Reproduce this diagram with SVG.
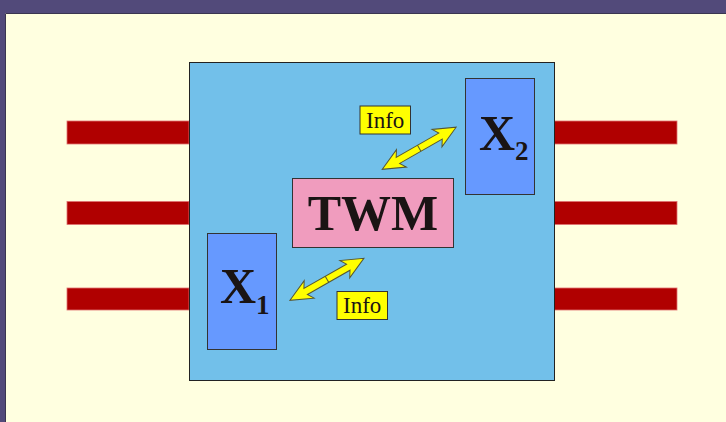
<svg xmlns="http://www.w3.org/2000/svg" width="726" height="422" viewBox="0 0 726 422">
<style>
.bar{fill:#b00000;stroke:#e07070;stroke-width:0.8}
.box{stroke:#333333;stroke-width:1}
.big{font-family:"Liberation Serif",serif;font-weight:bold;fill:#1a1414}
.info{font-family:"Liberation Serif",serif;font-size:23px;fill:#1a1414}
.arrow{fill:#ffff00;stroke:#555533;stroke-width:1}
</style>
<defs>
<polygon id="dbl" points="0,0 22,-10 18,-3.5 67,-3.5 63,-10 85,0 63,10 67,3.5 18,3.5 22,10"/>
</defs>
<rect x="0" y="0" width="726" height="422" fill="#524a7a"/>
<rect x="5" y="13" width="721" height="409" fill="#ffffe0"/>
<path d="M5.5,422 V13.5 H726" fill="none" stroke="#3a3550" stroke-width="1"/>
<g id="bars">
<rect class="bar" x="67" y="121" width="122" height="23"/>
<rect class="bar" x="67" y="201.5" width="122" height="23"/>
<rect class="bar" x="67" y="288" width="122" height="22"/>
<rect class="bar" x="554" y="121" width="123" height="23"/>
<rect class="bar" x="554" y="201.5" width="123" height="23"/>
<rect class="bar" x="554" y="288" width="123" height="22"/>
</g>
<g id="system">
<rect x="189.5" y="62.5" width="365" height="318" fill="#72c0ea" stroke="#222222" stroke-width="1"/>
</g>
<g id="twm">
<rect class="box" x="292.5" y="178.5" width="161" height="69" fill="#f09cbe"/>
<text class="big" x="373" y="230" font-size="50" text-anchor="middle">TWM</text>
</g>
<g id="x2">
<rect class="box" x="465.5" y="78.5" width="69" height="116" fill="#6699ff"/>
<text class="big" x="479" y="150" font-size="50">X<tspan font-size="27" dy="10">2</tspan></text>
</g>
<g id="x1">
<rect class="box" x="207.5" y="233.5" width="69" height="116" fill="#6699ff"/>
<text class="big" x="220" y="303" font-size="50">X<tspan font-size="27" dy="11">1</tspan></text>
</g>
<g id="info-top">
<rect x="360" y="106" width="50.5" height="28" fill="#ffff00" stroke="#333333" stroke-width="1"/>
<text class="info" x="385.2" y="127.5" text-anchor="middle">Info</text>
</g>
<g id="info-bottom">
<rect x="337" y="291.5" width="50.5" height="28" fill="#ffff00" stroke="#333333" stroke-width="1"/>
<text class="info" x="362.2" y="313" text-anchor="middle">Info</text>
</g>
<g id="connectors">
<g transform="translate(382.3,169.3) rotate(-29.7)">
<use href="#dbl" class="arrow"/>
<line x1="42.5" y1="-3.5" x2="42.5" y2="3.5" stroke="#555533" stroke-width="1"/>
</g>
<g transform="translate(290,300.3) rotate(-29.6)">
<use href="#dbl" class="arrow"/>
<line x1="42.5" y1="-3.5" x2="42.5" y2="3.5" stroke="#555533" stroke-width="1"/>
</g>
</g>
</svg>
